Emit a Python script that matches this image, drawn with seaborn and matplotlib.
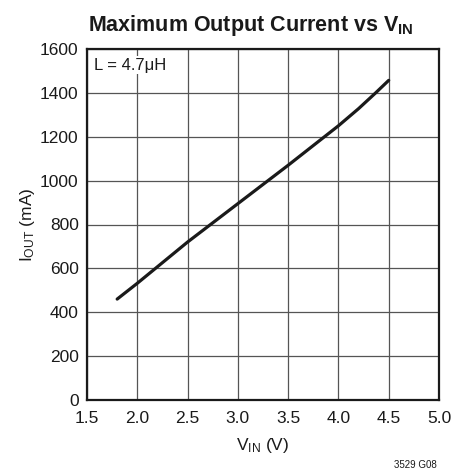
import matplotlib
matplotlib.use("Agg")
import matplotlib.pyplot as plt
import seaborn as sns
import pandas as pd

vin = [1.8, 2.0, 2.5, 3.0, 3.5, 4.0, 4.2, 4.37, 4.5]
iout = [460, 532, 720, 895, 1070, 1250, 1328, 1400, 1457]
xticks = [1.5, 2.0, 2.5, 3.0, 3.5, 4.0, 4.5, 5.0]
yticks = [0, 200, 400, 600, 800, 1000, 1200, 1400, 1600]

sns.set_style("white")
fam = ['Liberation Sans Narrow', 'Liberation Sans', 'DejaVu Sans']
plt.rcParams['font.family'] = fam
plt.rcParams['mathtext.fontset'] = 'custom'
plt.rcParams['mathtext.rm'] = 'Liberation Sans'
plt.rcParams['mathtext.it'] = 'Liberation Sans'
plt.rcParams['mathtext.bf'] = 'Liberation Sans:bold'

fig = plt.figure(figsize=(4.66, 4.72), dpi=100)
ax = fig.add_axes([87/466, 72/472, 352/466, 351/472])

df = pd.DataFrame({"vin": vin, "iout": iout})
sns.lineplot(data=df, x="vin", y="iout", ax=ax, color="#1a1a1a", linewidth=2.3)
for ln in ax.get_lines():
    ln.set_solid_joinstyle("round")

ax.set_xlim(1.5, 5.0)
ax.set_ylim(0, 1600)
ax.set_xticks(xticks)
ax.set_xticklabels([f"{t:.1f}" for t in xticks])
ax.set_yticks(yticks)
ax.set_yticklabels([str(t) for t in yticks])
ax.tick_params(length=0, labelsize=12.5, colors="#1a1a1a")
ax.tick_params(axis="x", pad=8)
ax.tick_params(axis="y", pad=6)
ax.grid(True, color="#555555", linewidth=0.9)
for s in ax.spines.values():
    s.set_color("#1a1a1a")
    s.set_linewidth(1.6)

ax.set_xlabel(r"V$_{\mathrm{IN}}$ (V)", fontsize=12.5, color="#1a1a1a", labelpad=7)
ax.set_ylabel(r"I$_{\mathrm{OUT}}$ (mA)", fontsize=12.5, color="#1a1a1a", labelpad=2)

fig.text(251/466, 1 - 31/472, r"Maximum Output Current vs V$_{\mathbf{IN}}$",
         ha="center", va="baseline", fontsize=15.5, fontweight="bold", color="#1a1a1a")

ax.text(0.02, 0.975, "L = 4.7μH", transform=ax.transAxes, ha="left", va="top",
        fontsize=12, color="#1a1a1a",
        bbox=dict(facecolor="white", edgecolor="none", pad=1.0))

fig.text(437/466, 1 - 468/472, "3529 G08", ha="right", va="baseline",
         fontsize=7, color="#1a1a1a")

fig.savefig("out.png", dpi=100)
